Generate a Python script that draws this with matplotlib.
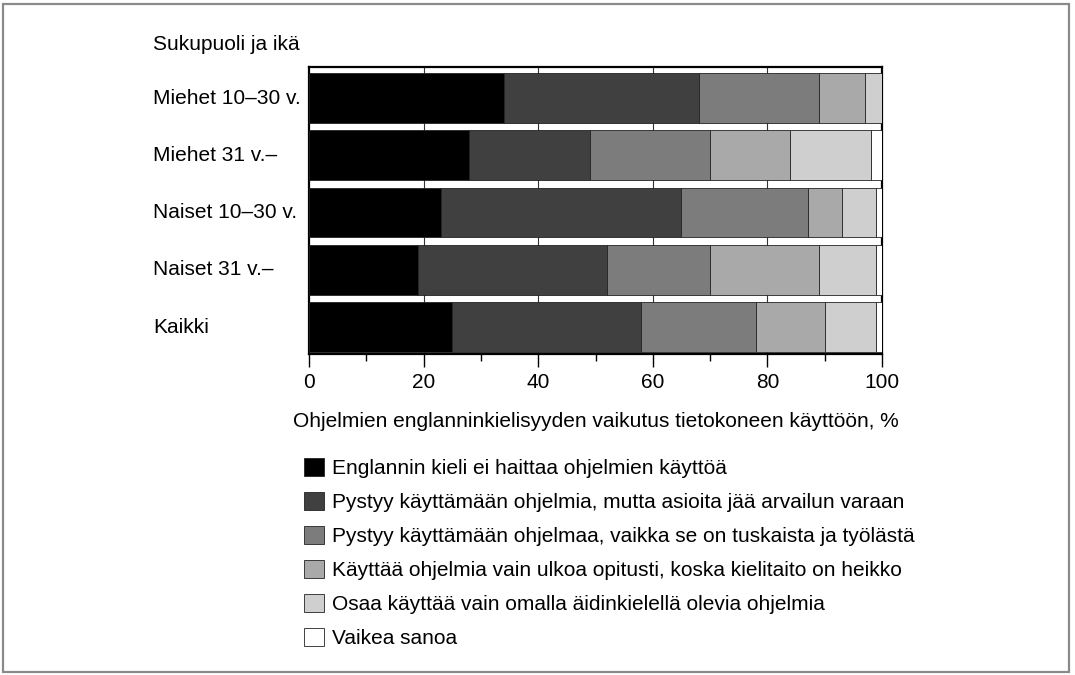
import matplotlib
matplotlib.use("Agg")
import matplotlib.pyplot as plt
from matplotlib.patches import Rectangle
import numpy as np

plt.rcParams['font.family'] = ['Liberation Sans', 'DejaVu Sans']

groups = ["Miehet 10–30 v.", "Miehet 31 v.–", "Naiset 10–30 v.", "Naiset 31 v.–", "Kaikki"]
answers = [
    "Englannin kieli ei haittaa ohjelmien käyttöä",
    "Pystyy käyttämään ohjelmia, mutta asioita jää arvailun varaan",
    "Pystyy käyttämään ohjelmaa, vaikka se on tuskaista ja työlästä",
    "Käyttää ohjelmia vain ulkoa opitusti, koska kielitaito on heikko",
    "Osaa käyttää vain omalla äidinkielellä olevia ohjelmia",
    "Vaikea sanoa",
]
# percentages per answer, one value per group (same order as groups)
ei_haittaa   = [34, 28, 23, 19, 25]
arvailun     = [34, 21, 42, 33, 33]
tuskaista    = [21, 21, 22, 18, 20]
ulkoa        = [8, 14, 6, 19, 12]
aidinkieli   = [3, 14, 6, 10, 9]
vaikea       = [0, 2, 1, 1, 1]
series = [ei_haittaa, arvailun, tuskaista, ulkoa, aidinkieli, vaikea]
xticks = [0, 20, 40, 60, 80, 100]

fills = ['#000000', '#404040', '#7c7c7c', '#a9a9a9', '#cfcfcf', '#ffffff']
FS = 15

W, H = 1075, 675
fig = plt.figure(figsize=(W / 100, H / 100), dpi=100)
ax = fig.add_axes([309 / W, 1 - 354 / H, 573 / W, 287 / H])

# outer frame around the whole figure
fig.patches.append(Rectangle((3 / W, 3 / H), 1066 / W, 668 / H, transform=fig.transFigure,
                             fill=False, ec='#8a8a8a', lw=1.6))

y = np.arange(len(groups))
left = np.zeros(len(groups))
bars = []
for vals, fc in zip(series, fills):
    b = ax.barh(y, vals, left=left, height=0.87, color=fc, edgecolor='#222222', lw=0.6, zorder=3)
    bars.append(b)
    left += np.array(vals)

ax.set_xlim(0, 100)
ax.set_ylim(4.47, -0.54)
ax.set_xticks(xticks)
ax.set_xticks(range(10, 100, 20), minor=True)
ax.set_yticks([])
ax.tick_params(axis='x', which='major', length=9, width=1, labelsize=FS, pad=5)
ax.tick_params(axis='x', which='minor', length=5, width=1)
for s in ax.spines.values():
    s.set_linewidth(1.6)
for gx in xticks[1:-1]:
    ax.axvline(gx, color='#333333', lw=0.8, zorder=1)

for yi, g in zip(y, groups):
    fig.text(153 / W, 1 - (98 + yi * 57.3) / H, g, fontsize=FS, ha='left', va='center')
fig.text(153 / W, 1 - 45 / H, "Sukupuoli ja ikä", fontsize=FS, ha='left', va='center')

ax.set_xlabel("Ohjelmien englanninkielisyyden vaikutus tietokoneen käyttöön, %", fontsize=FS, labelpad=14)

fig.legend([b[0] for b in bars], answers, loc='upper left',
           bbox_to_anchor=(304 / W, 1 - 458 / H), frameon=False, fontsize=FS,
           handlelength=0.96, handleheight=0.96, handletextpad=0.4,
           labelspacing=0.66, borderpad=0, borderaxespad=0)

fig.savefig("out.png", dpi=100)
